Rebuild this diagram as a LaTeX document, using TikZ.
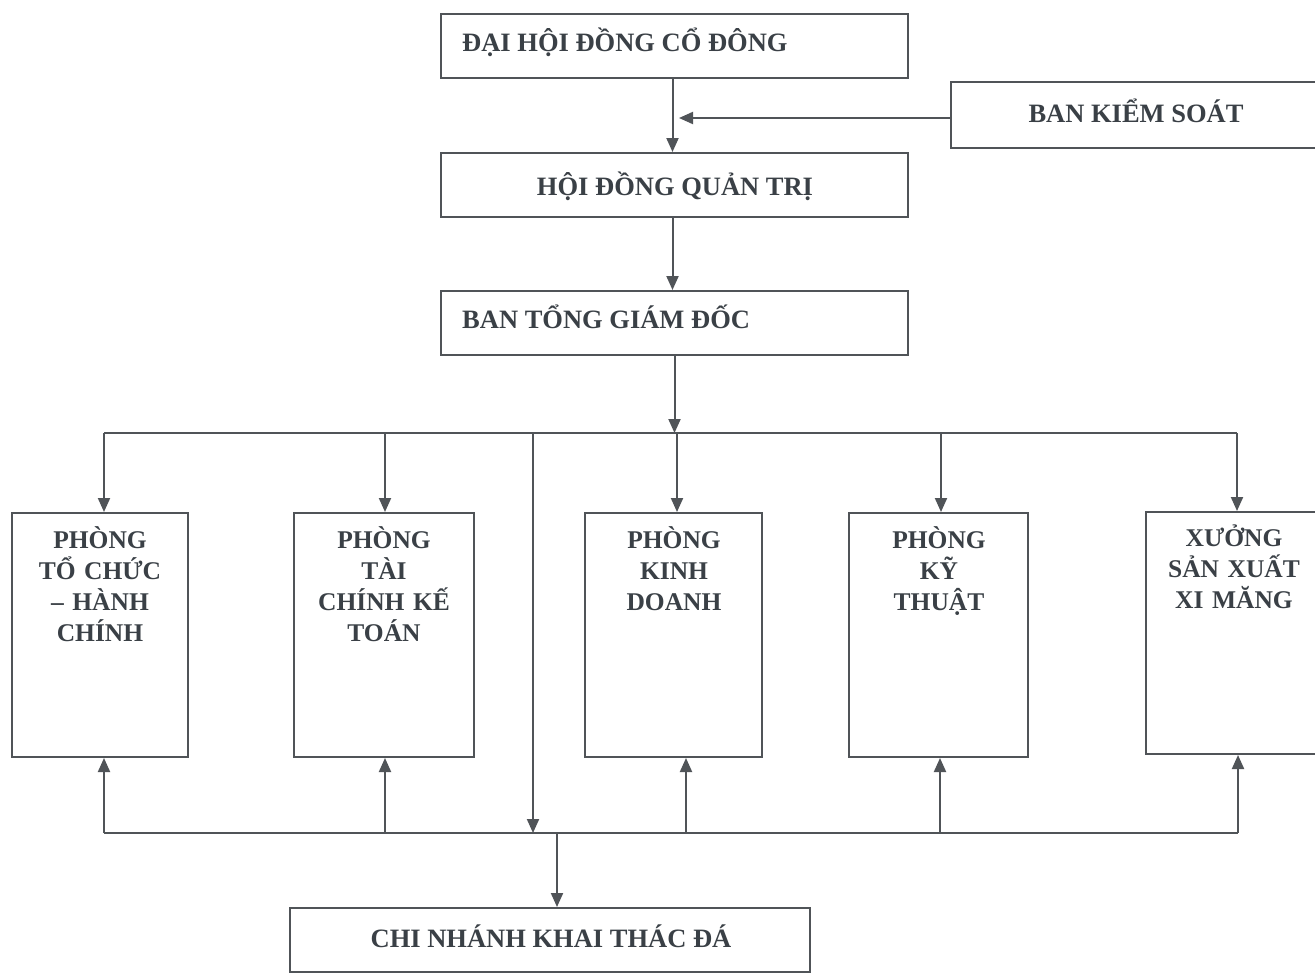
\documentclass[tikz,border=0pt]{standalone}
\usepackage{fontspec}
\setmainfont{Liberation Serif}
\usetikzlibrary{arrows.meta}
\definecolor{lc}{HTML}{505458}
\definecolor{tc}{HTML}{3A4046}
\tikzset{
  orgbox/.style={draw=lc, line width=2pt, inner sep=0pt},
  txt/.style={font={\bfseries\fontsize{26.5}{31}\selectfont}, text=tc, inner sep=0pt},
  mtxt/.style={font={\bfseries\fontsize{25.5}{31}\selectfont\lineskiplimit=-40pt}, text=tc, inner sep=0pt, text width=172pt, align=center, anchor=base},
  arr/.style={draw=lc, line width=2pt, -{Triangle[length=14pt,width=12pt]}},
  ln/.style={draw=lc, line width=2pt}
}
\begin{document}
\begin{tikzpicture}[x=1pt,y=-1pt]
\useasboundingbox (0,0) rectangle (1315,974);
\fill[white] (0,0) rectangle (1315,974);
% top boxes
\node[orgbox, minimum width=467pt, minimum height=64pt] (dh) at (674.5,46) {};
\node[txt, anchor=base west] (dht) at (462,52) {ĐẠI HỘI ĐỒNG CỔ ĐÔNG};
\node[orgbox, minimum width=379pt, minimum height=66pt] (bks) at (1140.5,115) {};
\node[txt, anchor=base] (bkst) at (1136,122) {BAN KIỂM SOÁT};
\node[orgbox, minimum width=467pt, minimum height=64pt] (hd) at (674.5,185) {};
\node[txt, anchor=base] (hdt) at (675,195) {HỘI ĐỒNG QUẢN TRỊ};
\node[orgbox, minimum width=467pt, minimum height=64pt] (tg) at (674.5,323) {};
\node[txt, anchor=base west] (tgt) at (462,328) {BAN TỔNG GIÁM ĐỐC};
% department boxes
\node[orgbox, minimum width=176pt, minimum height=244pt] (p1) at (100,635) {};
\node[mtxt] (p1t) at (100,548) {PHÒNG\\TỔ CHỨC\\– HÀNH\\CHÍNH};
\node[orgbox, minimum width=180pt, minimum height=244pt] (p2) at (384,635) {};
\node[mtxt] (p2t) at (384,548) {PHÒNG\\TÀI\\CHÍNH KẾ\\TOÁN};
\node[orgbox, minimum width=177pt, minimum height=244pt] (p3) at (673.5,635) {};
\node[mtxt] (p3t) at (674,548) {PHÒNG\\KINH\\DOANH};
\node[orgbox, minimum width=179pt, minimum height=244pt] (p4) at (938.5,635) {};
\node[mtxt] (p4t) at (939,548) {PHÒNG\\KỸ\\THUẬT};
\node[orgbox, minimum width=184pt, minimum height=242pt] (p5) at (1238,633) {};
\node[mtxt] (p5t) at (1234,546) {XƯỞNG\\SẢN XUẤT\\XI MĂNG};
% bottom box
\node[orgbox, minimum width=520pt, minimum height=64pt] (cn) at (550,940) {};
\node[txt, anchor=base] (cnt) at (551,947) {CHI NHÁNH KHAI THÁC ĐÁ};
% coordinates
\coordinate (k) at (679,118);
\coordinate (a1) at (104,433);
\coordinate (a2) at (385,433);
\coordinate (a3) at (677,433);
\coordinate (a4) at (941,433);
\coordinate (a5) at (1237,433);
\coordinate (v) at (533,433);
\coordinate (c1) at (104,833);
\coordinate (c2) at (385,833);
\coordinate (c3) at (686,833);
\coordinate (c4) at (940,833);
\coordinate (c5) at (1238,833);
\coordinate (cc) at (557,833);
% connectors
\draw[arr] ([xshift=-2pt]dh.south) -- ([xshift=-2pt]hd.north);
\draw[arr] (bks.west |- k) -- (k);
\draw[arr] ([xshift=-2pt]hd.south) -- ([xshift=-2pt]tg.north);
\draw[arr] (tg.south) -- (tg.south |- a3);
\draw[ln] (a1) -- (a5);
\draw[arr] (a1) -- (a1 |- p1.north);
\draw[arr] (a2) -- (a2 |- p2.north);
\draw[arr] (a3) -- (a3 |- p3.north);
\draw[arr] (a4) -- (a4 |- p4.north);
\draw[arr] (a5) -- (a5 |- p5.north);
\draw[arr] (v) -- (v |- c1);
\draw[ln] (c1) -- (c5);
\draw[arr] (c1) -- (c1 |- p1.south);
\draw[arr] (c2) -- (c2 |- p2.south);
\draw[arr] (c3) -- (c3 |- p3.south);
\draw[arr] (c4) -- (c4 |- p4.south);
\draw[arr] (c5) -- (c5 |- p5.south);
\draw[arr] (cc) -- (cc |- cn.north);
\end{tikzpicture}
\end{document}
